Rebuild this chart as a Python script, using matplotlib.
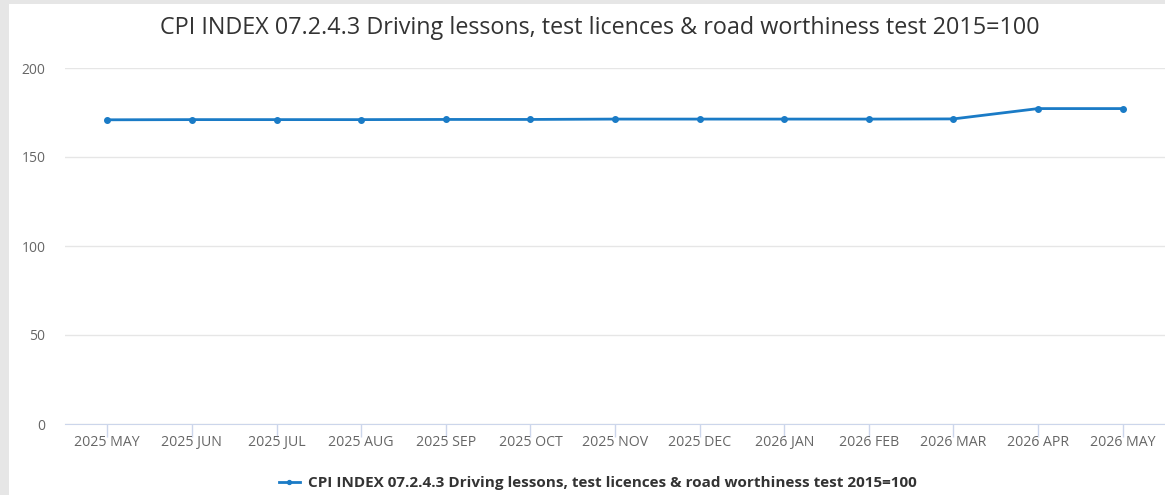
import matplotlib.pyplot as plt
from matplotlib.patches import Rectangle

plt.rcParams['font.family'] = ['Open Sans', 'DejaVu Sans']

months = ['2025 MAY', '2025 JUN', '2025 JUL', '2025 AUG', '2025 SEP', '2025 OCT',
          '2025 NOV', '2025 DEC', '2026 JAN', '2026 FEB', '2026 MAR', '2026 APR',
          '2026 MAY']
cpi = [170.9, 171.0, 171.0, 171.0, 171.1, 171.1, 171.3, 171.3, 171.3, 171.3,
       171.4, 177.2, 177.2]
yticks = [0, 50, 100, 150, 200]
title = 'CPI INDEX 07.2.4.3 Driving lessons, test licences & road worthiness test 2015=100'

fig = plt.figure(figsize=(11.65, 4.95), dpi=100)
fig.patch.set_facecolor('#e6e6e6')
# white panel inside the grey frame
fig.patches.append(Rectangle((9 / 1165, 0), 1, 1 - 4 / 495, transform=fig.transFigure,
                             facecolor='white', edgecolor='none', zorder=-10))

ax = fig.add_axes([65 / 1165, (495 - 424) / 495, 1100 / 1165, (424 - 68) / 495])
ax.set_zorder(2)
ax.set_facecolor('none')
line_color = '#1a7bc6'
ax.plot(range(len(months)), cpi, color=line_color, lw=2, marker='o', ms=4,
        label=title, zorder=3)

ax.set_xlim(-0.5, len(months) - 0.5)
ax.set_ylim(0, 200)
ax.set_yticks(yticks)
ax.set_xticks(range(len(months)))
ax.set_xticklabels(months)
ax.grid(axis='y', color='#e6e6e6', lw=1)
ax.set_axisbelow(True)
for s in ['top', 'right', 'left']:
    ax.spines[s].set_visible(False)
ax.spines['bottom'].set_color('#ccd6eb')
ax.tick_params(axis='x', colors='#ccd6eb', length=9, width=1, labelcolor='#666666',
               labelsize=10.2, pad=-1)
ax.tick_params(axis='y', length=0, labelcolor='#666666', labelsize=10, pad=14)

fig.text(0.515, 1 - 28 / 495, title, ha='center', va='center', fontsize=16.8,
         color='#333333')
leg = fig.legend(loc='center', bbox_to_anchor=(0.513, 1 - 483 / 495), frameon=False,
                 prop={'weight': 'bold', 'size': 11}, labelcolor='#333333',
                 handlelength=1.4, handletextpad=0.5, markerscale=0.7)
leg.set_zorder(3)

fig.savefig('out.png', dpi=100)
